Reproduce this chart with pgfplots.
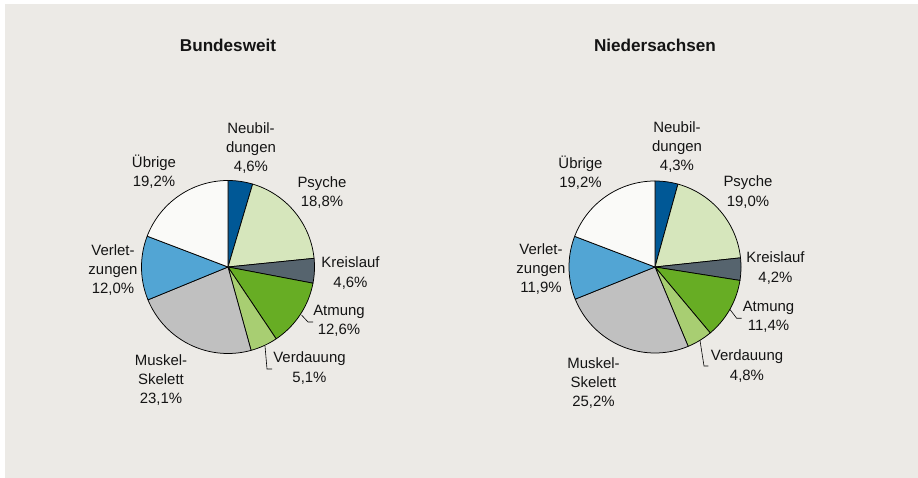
\documentclass[border=0pt]{standalone}
\usepackage{fontspec}
\setmainfont{Liberation Sans}
\usepackage{pgfplots}
\pgfplotsset{compat=1.18}
\definecolor{bgc}{RGB}{236,234,230}
\definecolor{cNeu}{RGB}{0,88,150}
\definecolor{cPsy}{RGB}{214,230,188}
\definecolor{cKre}{RGB}{86,100,110}
\definecolor{cAtm}{RGB}{103,173,36}
\definecolor{cVer}{RGB}{168,206,114}
\definecolor{cMus}{RGB}{192,192,192}
\definecolor{cVlz}{RGB}{82,165,212}
\definecolor{cUeb}{RGB}{250,250,248}
\definecolor{txt}{RGB}{20,20,20}
% slice: color, cumulative start (%), value (%), radius
\newcommand{\slice}[4]{%
  \addplot[draw=black, line width=0.75bp, line join=round, fill=#1,
    domain={90-3.6*(#2+#3)}:{90-3.6*#2}, samples=60]
    ({#4*cos(x)},{#4*sin(x)}) -- (axis cs:0,0) -- cycle;}
\newcommand{\lab}[3]{\node[align=center, text=txt, font=\fontsize{15}{19.4}\selectfont, inner sep=0pt] at (axis cs:#1,#2) {#3};}
\pgfplotsset{pieaxis/.style={anchor=origin, x=1bp, y=1bp, xmin=-130, xmax=130, ymin=-130, ymax=130, hide axis, clip=false, scale only axis}}
\begin{document}
\begin{tikzpicture}
\path[use as bounding box] (0,0) rectangle (918bp,478bp);
\fill[white] (0,0) rectangle (918bp,478bp);
\fill[bgc] (5bp,0) rectangle (918bp,474bp);
\node[font=\fontsize{17.2}{20}\selectfont\bfseries, text=txt] at (228bp,433bp) {Bundesweit};
\node[font=\fontsize{17.2}{20}\selectfont\bfseries, text=txt] at (655bp,433bp) {Niedersachsen};
% Bundesweit
\begin{axis}[pieaxis, at={(228bp,211bp)}]
\slice{cNeu}{0}{4.6}{86.5}
\slice{cPsy}{4.6}{18.8}{86.5}
\slice{cKre}{23.4}{4.6}{86.5}
\slice{cAtm}{28.0}{12.6}{86.5}
\slice{cVer}{40.6}{5.1}{86.5}
\slice{cMus}{45.7}{23.1}{86.5}
\slice{cVlz}{68.8}{12.0}{86.5}
\slice{cUeb}{80.8}{19.2}{86.5}
\addplot[black, line width=0.6bp] coordinates {(73.5,-48) (80,-55) (85,-55)};
\addplot[black, line width=0.6bp] coordinates {(37,-79) (39,-102) (44,-102)};
\lab{23}{119}{Neubil-\\dungen\\4,6\%}
\lab{94}{74.5}{Psyche\\18,8\%}
\lab{122.5}{-6}{Kreislauf\\4,6\%}
\lab{111}{-54}{Atmung\\12,6\%}
\lab{81.5}{-101}{Verdauung\\5,1\%}
\lab{-67}{-113}{Muskel-\\Skelett\\23,1\%}
\lab{-115}{-3}{Verlet-\\zungen\\12,0\%}
\lab{-74}{95}{Übrige\\19,2\%}
\end{axis}
% Niedersachsen
\begin{axis}[pieaxis, at={(655bp,211bp)}]
\slice{cNeu}{0}{4.3}{86}
\slice{cPsy}{4.3}{19.0}{86}
\slice{cKre}{23.3}{4.2}{86}
\slice{cAtm}{27.5}{11.4}{86}
\slice{cVer}{38.9}{4.8}{86}
\slice{cMus}{43.7}{25.2}{86}
\slice{cVlz}{68.9}{11.9}{86}
\slice{cUeb}{80.8}{19.2}{86}
\addplot[black, line width=0.6bp] coordinates {(75,-42.5) (81.7,-51.3) (86.7,-51.3)};
\addplot[black, line width=0.6bp] coordinates {(45,-73.5) (49,-99) (53.3,-99)};
\lab{22}{120}{Neubil-\\dungen\\4,3\%}
\lab{93}{75}{Psyche\\19,0\%}
\lab{120.5}{-1}{Kreislauf\\4,2\%}
\lab{113.5}{-50}{Atmung\\11,4\%}
\lab{92}{-99}{Verdauung\\4,8\%}
\lab{-61.5}{-116}{Muskel-\\Skelett\\25,2\%}
\lab{-114}{-2}{Verlet-\\zungen\\11,9\%}
\lab{-74.5}{94.5}{Übrige\\19,2\%}
\end{axis}
\end{tikzpicture}
\end{document}
